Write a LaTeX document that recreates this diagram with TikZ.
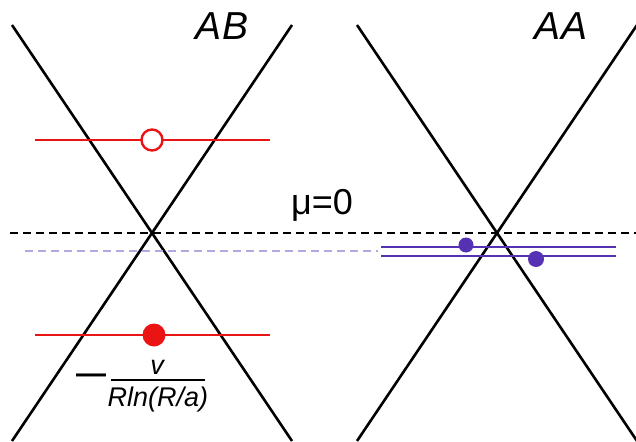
\documentclass[tikz,border=0pt]{standalone}
\usepackage{fontspec}
\setmainfont{Liberation Sans}
\definecolor{myred}{RGB}{235,20,20}
\definecolor{mypurple}{RGB}{85,50,180}
\definecolor{mylight}{RGB}{180,170,225}
\begin{document}
\begin{tikzpicture}[x=1pt,y=-1pt,
  cone/.style={line width=2.6pt,black},
  level/.style={line width=2.6pt,myred},
  dash line/.style={line width=2.6pt,dash pattern=on 8pt off 5pt},
  band/.style={line width=2.6pt,mypurple},
  dot/.style={circle,inner sep=0pt,minimum size=#1,fill=mypurple},
  bigtext/.style={font=\fontsize{39}{41}\selectfont\itshape},
  lbl/.style={font=\fontsize{27}{29}\selectfont\itshape,inner sep=0pt}]
\useasboundingbox (0,0) rectangle (636,441);
% cone AB
\coordinate (ABc) at (152,233);
\coordinate (ABtl) at (12,25);
\coordinate (ABtr) at (292,25);
\coordinate (ABbl) at (12,441);
\coordinate (ABbr) at (292,441);
\draw[cone] (ABtl) -- (ABc) -- (ABbr);
\draw[cone] (ABtr) -- (ABc) -- (ABbl);
% cone AA
\coordinate (AAc) at (497,233);
\coordinate (AAtl) at (357,25);
\coordinate (AAtr) at (637,25);
\coordinate (AAbl) at (357,441);
\coordinate (AAbr) at (637,441);
\draw[cone] (AAtl) -- (AAc) -- (AAbr);
\draw[cone] (AAtr) -- (AAc) -- (AAbl);
% mu=0 line
\coordinate (m0) at (10,233);
\coordinate (m1) at (636,233);
\draw[dash line,black] (m0) -- (m1);
\coordinate (l0) at (25,251);
\coordinate (l1) at (378,251);
\draw[dash line,mylight,line width=2pt] (l0) -- (l1);
% purple band
\coordinate (b0) at (381,247);
\coordinate (b1) at (616,247);
\coordinate (c0) at (381,256);
\coordinate (c1) at (616,256);
\draw[band] (b0) -- (b1);
\draw[band] (c0) -- (c1);
\node[dot=15pt] (d1) at (466,245) {};
\node[dot=16pt] (d2) at (536,259) {};
% red levels
\coordinate (r0) at (35,140);
\coordinate (r1) at (270,140);
\coordinate (s0) at (35,335);
\coordinate (s1) at (270,335);
\draw[level] (r0) -- (r1);
\draw[level] (s0) -- (s1);
\node[circle,draw=myred,fill=white,line width=2.4pt,minimum size=21pt,inner sep=0pt] (open) at (152,140) {};
\node[circle,fill=myred,minimum size=23pt,inner sep=0pt] (full) at (154,335) {};
% labels
\node[bigtext] (ab) at (222,26) {AB};
\node[bigtext] (aa) at (561,26) {AA};
\node[font=\fontsize{36}{38}\selectfont] (mu) at (322,205) {μ=0};
\node[lbl] (num) at (157,367) {v};
\node[lbl] (den) at (158,400) {Rln(R/a)};
\coordinate (f0) at (111,380);
\coordinate (f1) at (205,380);
\draw[line width=2.6pt] (f0) -- (f1);
\node[font=\fontsize{30}{32}\selectfont\bfseries,inner sep=0pt] (minus) at (91,379) {—};
\end{tikzpicture}
\end{document}
